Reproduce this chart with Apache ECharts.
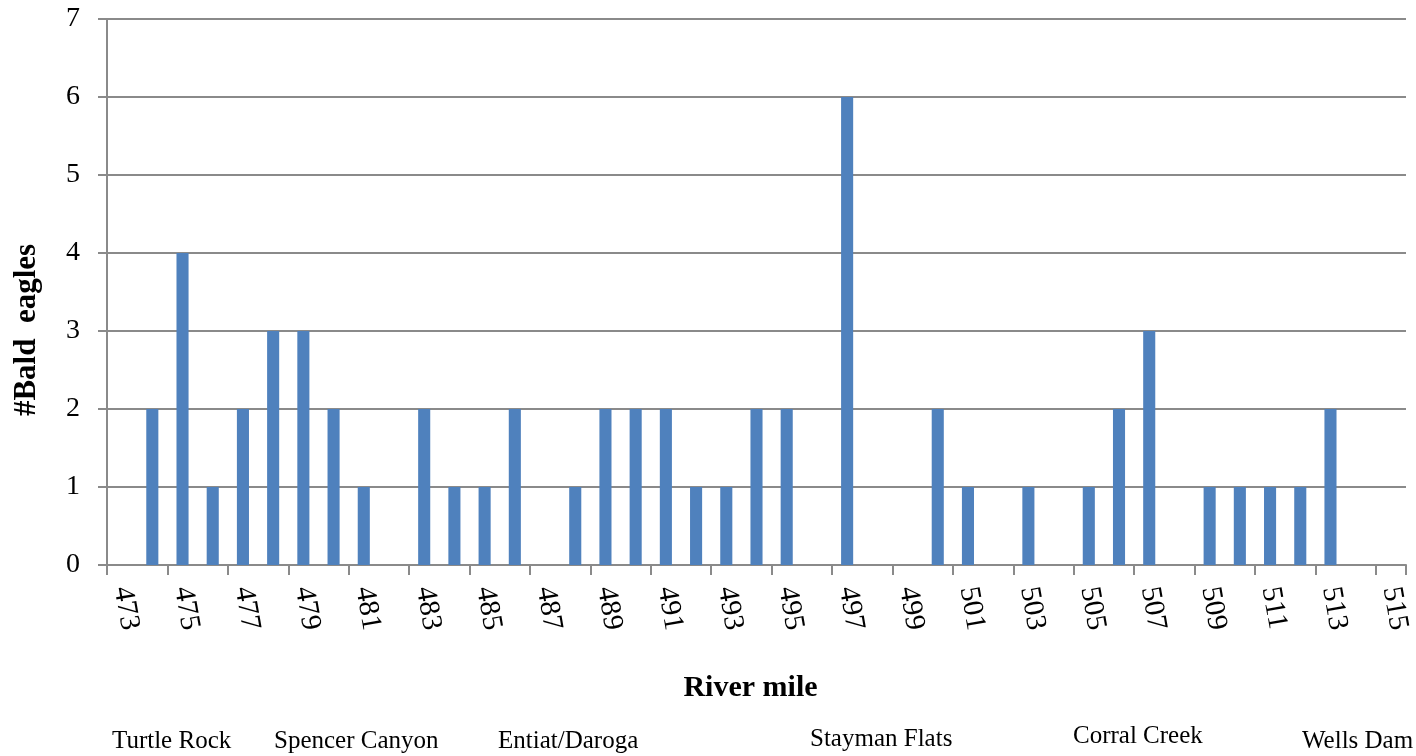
<!DOCTYPE html>
<html>
<head>
<meta charset="utf-8">
<title>Bald eagles by river mile</title>
<script src="https://cdn.jsdelivr.net/npm/echarts@6/dist/echarts.min.js"></script>
<style>
  html, body { margin: 0; padding: 0; background: #ffffff; }
  #chart { width: 1416px; height: 756px; }
</style>
</head>
<body>
<div id="chart"></div>
<script>
// River miles along the reach (one category per mile)
const riverMiles = ['473','474','475','476','477','478','479','480','481','482',
  '483','484','485','486','487','488','489','490','491','492',
  '493','494','495','496','497','498','499','500','501','502',
  '503','504','505','506','507','508','509','510','511','512',
  '513','514','515'];

// Bald eagles counted at each river mile
const eagleCounts = [0, 2, 4, 1, 2, 3, 3, 2, 1, 0,
  2, 1, 1, 2, 0, 1, 2, 2, 2, 1,
  1, 2, 2, 0, 6, 0, 0, 2, 1, 0,
  1, 0, 1, 2, 3, 0, 1, 1, 1, 1,
  2, 0, 0];

// Landmarks listed beneath the axis
const landmarks = ['Turtle Rock', 'Spencer Canyon', 'Entiat/Daroga', 'Stayman Flats', 'Corral Creek', 'Wells Dam'];

const axisTitleX = 'River mile';
const axisTitleY = '#Bald  eagles';

// Placement of the landmark captions (left edge, vertical centre)
const landmarkLayout = [[112, 740], [274, 740], [498, 740], [810, 738], [1073, 735], [1302, 740]];

const FONT = '"Liberation Serif", "Times New Roman", serif';
const AXIS_GREY = '#8a8a8a';

const chart = echarts.init(document.getElementById('chart'), null, { renderer: 'canvas' });

chart.setOption({
  animation: false,
  backgroundColor: '#ffffff',
  grid: { left: 107, right: 10, top: 19, bottom: 191, containLabel: false },
  xAxis: {
    type: 'category',
    data: riverMiles,
    boundaryGap: true,
    name: axisTitleX,
    nameLocation: 'middle',
    nameGap: 108,
    nameTextStyle: { fontFamily: FONT, fontSize: 30, fontWeight: 'bold', color: '#000', padding: [0, 12, 0, 0] },
    axisLine: { show: true, lineStyle: { color: AXIS_GREY, width: 2 } },
    axisTick: { show: true, interval: 1, alignWithLabel: false, length: 10, lineStyle: { color: AXIS_GREY, width: 2 } },
    axisLabel: {
      interval: 1,
      rotate: -80,
      margin: 22,
      fontFamily: FONT,
      fontSize: 29,
      color: '#000'
    },
    splitLine: { show: false }
  },
  yAxis: {
    type: 'value',
    min: 0,
    max: 7,
    interval: 1,
    name: axisTitleY,
    nameLocation: 'middle',
    nameGap: 65,
    nameRotate: 90,
    nameTextStyle: { fontFamily: FONT, fontSize: 31, fontWeight: 'bold', color: '#000', padding: [0, 76, 0, 0] },
    axisLine: { show: true, lineStyle: { color: AXIS_GREY, width: 2 } },
    axisTick: { show: true, length: 9, lineStyle: { color: AXIS_GREY, width: 2 } },
    axisLabel: { margin: 27, fontFamily: FONT, fontSize: 28, color: '#000' },
    splitLine: { show: true, lineStyle: { color: AXIS_GREY, width: 2 } }
  },
  series: [{
    type: 'bar',
    data: eagleCounts,
    barWidth: '40%',
    itemStyle: { color: '#4f81bd' },
    silent: true
  }],
  graphic: landmarks.map((name, i) => ({
    type: 'text',
    left: landmarkLayout[i][0],
    top: landmarkLayout[i][1] - 11,
    style: { text: name, font: '25px ' + FONT, fill: '#000' }
  }))
});
</script>
</body>
</html>
